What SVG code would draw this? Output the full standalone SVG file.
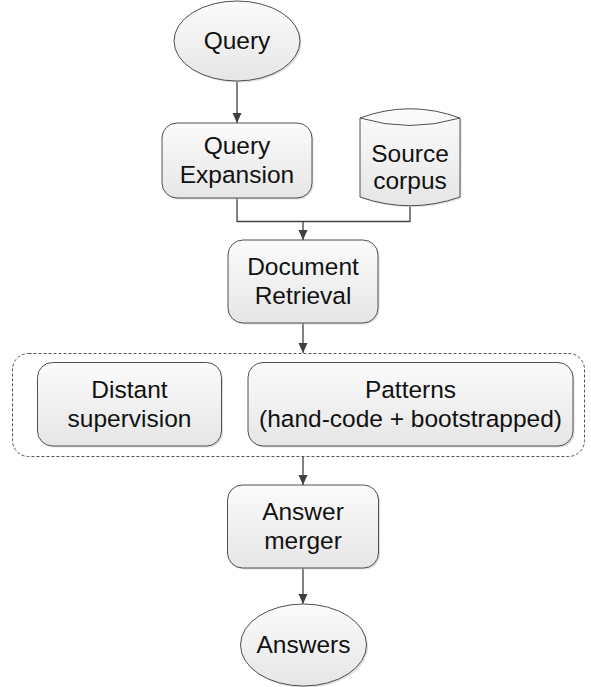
<svg xmlns="http://www.w3.org/2000/svg" width="591" height="687" viewBox="0 0 591 687">
  <defs>
    <linearGradient id="fill" x1="0" y1="0" x2="0" y2="1">
      <stop offset="0" stop-color="#fbfbfb"/>
      <stop offset="1" stop-color="#e6e6e6"/>
    </linearGradient>
    <marker id="arr" viewBox="0 0 10 10" refX="10" refY="5" markerWidth="10" markerHeight="10" markerUnits="userSpaceOnUse" orient="auto">
      <path d="M0,0.5 L10,5 L0,9.5 Z" fill="#404040"/>
    </marker>
    <style>
      .shape { fill: url(#fill); stroke: #505050; stroke-width: 1; }
      .shadow { fill: #c8c8c8; stroke: none; opacity: 0.6; }
      .lbl { font-family: "Liberation Sans", Arial, sans-serif; font-size: 24.5px; fill: #111; text-anchor: middle; }
      .conn { fill: none; stroke: #404040; stroke-width: 1.3; }
      .group { fill: none; stroke: #404040; stroke-width: 0.9; stroke-dasharray: 3 2; }
    </style>
  </defs>

  <g id="container">
    <rect class="group" x="12.5" y="353.5" width="572" height="103" rx="16"/>
  </g>

  <g id="connectors">
    <line class="conn" x1="237" y1="81" x2="237" y2="123" marker-end="url(#arr)"/>
    <path class="conn" d="M237,198 V221.5 H410 V206"/>
    <line class="conn" x1="303" y1="221.5" x2="303" y2="240" marker-end="url(#arr)"/>
    <line class="conn" x1="303" y1="323" x2="303" y2="353" marker-end="url(#arr)"/>
    <line class="conn" x1="303" y1="456.5" x2="303" y2="485" marker-end="url(#arr)"/>
    <line class="conn" x1="303" y1="568" x2="303" y2="604" marker-end="url(#arr)"/>
  </g>

  <g id="query">
    <ellipse class="shadow" cx="238.5" cy="42.5" rx="63" ry="40"/>
    <ellipse class="shape" cx="237" cy="41" rx="63" ry="40"/>
    <text class="lbl" x="237" y="49">Query</text>
  </g>

  <g id="query-expansion">
    <rect class="shadow" x="163.5" y="124.5" width="150" height="75" rx="15"/>
    <rect class="shape" x="162" y="123" width="150" height="75" rx="15"/>
    <text class="lbl" x="237" y="154">Query</text>
    <text class="lbl" x="237" y="183">Expansion</text>
  </g>

  <g id="source-corpus">
    <path class="shadow" d="M361.5,119.5 Q411.5,101 461.5,119.5 V198.5 Q411.5,216 361.5,198.5 Z"/>
    <path class="shape" d="M360,118 Q410,99.5 460,118 V197 Q410,214.5 360,197 Z"/>
    <path fill="none" stroke="#505050" stroke-width="1" d="M360,118 Q410,133 460,118"/>
    <text class="lbl" x="410" y="162">Source</text>
    <text class="lbl" x="410" y="189">corpus</text>
  </g>

  <g id="document-retrieval">
    <rect class="shadow" x="229.5" y="241.5" width="150" height="83" rx="15"/>
    <rect class="shape" x="228" y="240" width="150" height="83" rx="15"/>
    <text class="lbl" x="303" y="275">Document</text>
    <text class="lbl" x="303" y="304">Retrieval</text>
  </g>

  <g id="distant-supervision">
    <rect class="shadow" x="39" y="364" width="184" height="83.5" rx="15"/>
    <rect class="shape" x="37.5" y="362.5" width="184" height="83.5" rx="15"/>
    <text class="lbl" x="129.5" y="398">Distant</text>
    <text class="lbl" x="129.5" y="427">supervision</text>
  </g>

  <g id="patterns">
    <rect class="shadow" x="249.5" y="364" width="325" height="83.5" rx="15"/>
    <rect class="shape" x="248" y="362.5" width="325" height="83.5" rx="15"/>
    <text class="lbl" x="410.5" y="398">Patterns</text>
    <text class="lbl" x="410.5" y="427">(hand-code + bootstrapped)</text>
  </g>

  <g id="answer-merger">
    <rect class="shadow" x="229" y="486.5" width="151" height="83" rx="15"/>
    <rect class="shape" x="227.5" y="485" width="151" height="83" rx="15"/>
    <text class="lbl" x="303" y="520">Answer</text>
    <text class="lbl" x="303" y="549">merger</text>
  </g>

  <g id="answers">
    <ellipse class="shadow" cx="305" cy="646.5" rx="63" ry="41"/>
    <ellipse class="shape" cx="303.5" cy="645" rx="63" ry="41"/>
    <text class="lbl" x="303.5" y="653">Answers</text>
  </g>
</svg>
